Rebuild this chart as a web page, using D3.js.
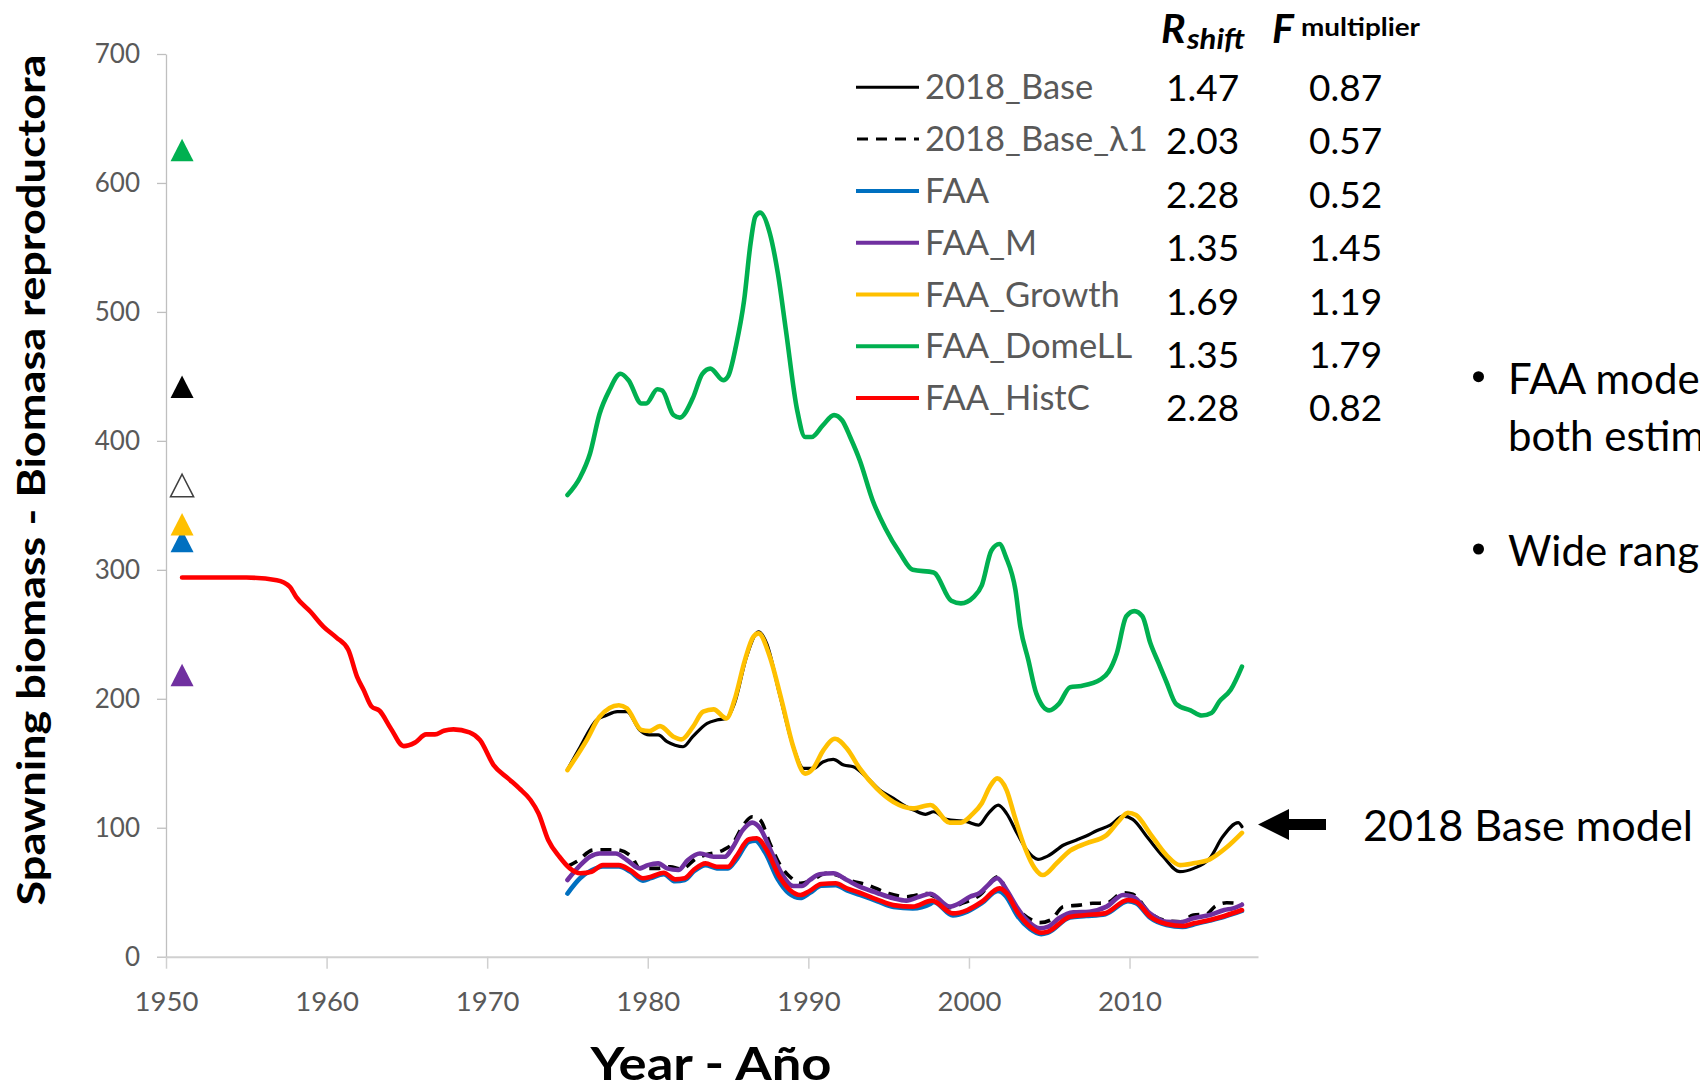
<!DOCTYPE html>
<html>
<head>
<meta charset="utf-8">
<script src="https://cdn.jsdelivr.net/npm/d3@7"></script>
<style>
  body { margin: 0; background: #fff; }
  svg { display: block; font-family: Lato, "Open Sans", sans-serif; }
</style>
</head>
<body>
<svg id="chart" width="1700" height="1086"></svg>
<script>
// ---- data ----
const xTicks = [1950, 1960, 1970, 1980, 1990, 2000, 2010];
const yTicks = [0, 100, 200, 300, 400, 500, 600, 700];

const base2018 = [[1975,145],[1975.8,162.8],[1976.8,183.5],[1977.4,187],[1978.1,190],[1978.7,190],[1979.5,175.8],[1980.1,172],[1980.65,172],[1981.2,166.7],[1981.7,164],[1982.2,162.8],[1982.8,170.6],[1983.7,181],[1984.3,183.5],[1984.9,184.8],[1985.4,196.4],[1986.15,232.6],[1986.9,252],[1987.4,243],[1988.2,204],[1989.06,162.8],[1989.7,146],[1990.3,146],[1990.9,151],[1991.55,153],[1992.2,148.6],[1992.8,147.3],[1993.6,139.5],[1994.46,129],[1995.3,122.8],[1996.1,116.3],[1996.6,113.5],[1997.3,110.4],[1997.8,112.4],[1998.6,106.5],[1999.86,104.7],[2000.6,102],[2001.2,111],[2001.83,117.6],[2002.35,111],[2003.0,95.7],[2003.6,82.7],[2004.3,75.5],[2004.9,78],[2005.9,86.6],[2006.7,90.5],[2007.3,93.6],[2007.95,97.7],[2008.8,102],[2009.6,109],[2010.2,106.5],[2011.16,91.8],[2012.1,77.5],[2013.14,65.9],[2014.0,68.5],[2015.0,76.3],[2015.8,93],[2016.77,103.9],[2017.0,100.8]];

const baseLambda1 = [[1975,70],[1975.6,74],[1976.6,82.7],[1978.0,83],[1979.0,77.5],[1979.5,68.5],[1980.6,68.5],[1981.4,69.8],[1982.1,68],[1983.0,76],[1983.6,79],[1984.7,82.7],[1985.3,88],[1985.9,101],[1986.5,108.5],[1987.0,106],[1987.6,88],[1988.3,70],[1988.85,62],[1989.5,57],[1990.3,60],[1991.1,64.7],[1991.9,62.8],[1992.5,59.5],[1993.7,55.6],[1995.0,49],[1996.1,46.5],[1997.4,49],[1997.8,47],[1998.8,38],[1999.5,41],[2000.7,48],[2001.8,62],[2002.5,46.5],[2003.2,35],[2003.9,28.5],[2004.4,26.4],[2005.1,28.5],[2005.87,38.8],[2006.9,40],[2007.7,41.4],[2008.57,41.6],[2009.6,49.6],[2010.2,48.4],[2011.27,34],[2012.3,27.9],[2013.2,27.1],[2013.97,32.3],[2014.8,33],[2015.3,38.8],[2016.05,41.8],[2017.0,41]];

const faa = [[1975,49],[1975.8,61],[1976.5,67],[1977.2,70],[1978.2,70],[1978.9,66],[1979.7,59],[1980.2,61],[1981.0,64],[1981.7,58.5],[1982.3,59.5],[1982.9,66.5],[1983.6,71],[1984.3,68.5],[1985.0,68.5],[1985.5,75],[1986.3,89],[1986.7,90],[1987.3,81],[1988.1,60],[1988.8,49],[1989.5,45.5],[1990.1,49.5],[1990.8,55],[1991.7,55.5],[1992.4,51.5],[1993.2,48],[1994.3,43],[1995.3,38.5],[1996.5,37.5],[1997.6,41],[1997.8,42.5],[1999.0,32],[1999.9,35],[2000.8,41.5],[2001.8,51],[2002.3,47],[2003.0,32],[2003.8,21.5],[2004.5,17.5],[2004.9,18.5],[2006.3,30.5],[2007.3,31.5],[2008.5,33],[2009.9,43],[2010.4,41.5],[2011.3,30],[2012.3,24.5],[2013.3,23],[2014.0,25],[2015.0,28],[2015.9,31],[2017.0,35.5]];

const faaM = [[1975,59.5],[1975.8,71],[1976.4,77.5],[1977.0,80],[1978.0,80],[1978.7,75],[1979.5,68.5],[1980.0,71],[1980.65,72.4],[1981.2,68.5],[1981.9,67.2],[1982.5,75],[1983.25,80],[1984.1,77.5],[1984.8,77.5],[1985.3,85],[1985.9,98],[1986.5,104],[1987.0,99.5],[1987.6,84],[1988.33,64.7],[1989.06,54.8],[1989.6,54.8],[1990.1,59.5],[1990.7,64],[1991.55,64.7],[1992.4,59.5],[1993.2,54.3],[1994.25,49.6],[1995.3,45.3],[1996.1,43.5],[1996.9,46.5],[1997.6,48.8],[1998.8,38.8],[1999.4,41.4],[2000.06,46.5],[2000.7,49.6],[2001.2,55.6],[2001.76,60.8],[2002.35,51.7],[2002.97,38.8],[2003.6,28.5],[2004.4,22],[2004.94,23.3],[2005.6,29.8],[2006.5,34.4],[2007.5,34.9],[2008.57,38.8],[2009.6,47.8],[2010.2,46.5],[2011.27,33.6],[2012.3,27],[2013.14,26.7],[2013.97,29.8],[2015.0,32.3],[2015.9,36.2],[2016.45,37.5],[2017.0,40.3]];

const faaGrowth = [[1975,144.7],[1976.2,168],[1977.0,186],[1978.2,195],[1978.7,192.6],[1979.6,175.8],[1980.1,175],[1980.76,178.8],[1981.6,170.6],[1982.1,168.5],[1982.8,178],[1983.45,190],[1984.1,191.8],[1984.9,184.8],[1985.4,199],[1986.05,230],[1986.57,248],[1986.9,250.7],[1987.6,232.6],[1988.33,199],[1989.06,162.8],[1989.8,142],[1990.3,146],[1990.93,160],[1991.66,169],[1992.4,161.5],[1993.2,146],[1994.25,130.5],[1995.3,120],[1996.5,115],[1997.6,117.6],[1998.8,104],[1999.5,104],[2000.17,110],[2000.8,119],[2001.3,131.8],[2001.76,138.3],[2002.35,129],[2002.85,108.5],[2003.5,84],[2004.1,68.5],[2004.6,63.3],[2005.46,72.4],[2006.3,82.2],[2007.3,87.9],[2008.57,94.3],[2009.3,104.7],[2009.9,111.6],[2010.4,109.8],[2011.27,95.7],[2012.3,78.8],[2013.14,71],[2013.97,72.4],[2015.0,75.5],[2016.05,84.8],[2017.0,96]];

const faaDomeLL = [[1975.0,358],[1975.8,372],[1976.4,390],[1977.0,421],[1977.6,439],[1978.3,452],[1978.8,447],[1979.6,429],[1979.9,429],[1980.6,440],[1980.9,439],[1981.6,420],[1982.0,418],[1982.8,433],[1983.4,452],[1983.9,456],[1984.7,447],[1985.0,450],[1985.5,474],[1986.0,509],[1986.4,553],[1986.7,574],[1987.0,577],[1987.6,561],[1988.1,530],[1988.6,486],[1989.3,424],[1989.8,403],[1990.2,403],[1990.9,412],[1991.6,420],[1992.1,416],[1992.6,403],[1993.2,385],[1994.0,354],[1994.8,332],[1995.7,313],[1996.5,300],[1997.8,298],[1998.9,276],[1999.5,274],[2000.3,279],[2000.8,288],[2001.4,315],[2001.9,320],[2002.3,310],[2002.9,284],[2003.2,256],[2003.7,230],[2004.2,204],[2005.0,191],[2005.6,196],[2006.3,209],[2007.0,210],[2008.2,215],[2008.7,221],[2009.2,235],[2009.8,264],[2010.3,268],[2010.8,264],[2011.3,243],[2011.8,228],[2012.3,213],[2012.9,196],[2013.8,191],[2014.5,187],[2015.1,189],[2015.6,198],[2016.3,207],[2017.0,225]];

const faaHistC = [[1951,294],[1955,294],[1956.9,292],[1957.7,287],[1958.1,279],[1959.0,267.5],[1959.8,256],[1960.6,247.6],[1961.35,238],[1961.9,217],[1962.3,207],[1962.8,194],[1963.3,190.7],[1964.0,177],[1964.8,163.3],[1965.5,166],[1966.2,172.4],[1966.75,172.4],[1967.3,175.2],[1967.9,176.3],[1968.9,174],[1969.55,168],[1970.4,148.6],[1971.3,138.3],[1972.0,130.5],[1972.7,121.5],[1973.2,111],[1973.8,90.5],[1974.5,77.5],[1975.15,68.5],[1975.8,64.7],[1976.5,65.9],[1977.2,71],[1978.2,71],[1978.9,67.2],[1979.7,60.8],[1980.2,62],[1981.0,65.1],[1981.7,60],[1982.3,60.8],[1982.9,67.8],[1983.6,72.4],[1984.3,69.8],[1985.0,69.8],[1985.5,77.5],[1986.3,91],[1986.8,91.8],[1987.4,82.7],[1988.2,62],[1988.85,51.7],[1989.5,47.8],[1990.1,51.2],[1990.8,56.4],[1991.7,56.9],[1992.4,53],[1993.2,49.6],[1994.25,44.5],[1995.3,40],[1996.5,38.8],[1997.7,43.5],[1999.0,33.6],[1999.9,36.2],[2000.8,42.6],[2001.9,53],[2002.35,49.1],[2003.0,34.9],[2003.8,23.3],[2004.5,18.6],[2004.9,19.4],[2006.3,31],[2007.3,32.3],[2008.45,33.6],[2009.9,44],[2010.4,42.6],[2011.3,31],[2012.3,25.4],[2013.35,23.8],[2014.0,25.9],[2015.0,28.5],[2015.9,31.6],[2017.0,36.2]];

// virgin biomass markers at 1951
const markerYear = 1951;
const markerValues = [
  {name: 'FAA_DomeLL', v: 625.6, fill: '#00B050'},
  {name: '2018_Base', v: 442, fill: '#000000'},
  {name: '2018_Base_λ1', v: 365.4, fill: '#ffffff', open: true},
  {name: 'FAA', v: 322.3, fill: '#0070C0'},
  {name: 'FAA_Growth', v: 335.3, fill: '#FFC000'},
  {name: 'FAA_M', v: 218.4, fill: '#7030A0'}
];

const seriesNames = ['2018_Base', '2018_Base_λ1', 'FAA', 'FAA_M', 'FAA_Growth', 'FAA_DomeLL', 'FAA_HistC'];
const seriesColors = ['#000000', '#000000', '#0070C0', '#7030A0', '#FFC000', '#00B050', '#FF0000'];
const seriesData = [base2018, baseLambda1, faa, faaM, faaGrowth, faaDomeLL, faaHistC];
const rShift = ['1.47', '2.03', '2.28', '1.35', '1.69', '1.35', '2.28'];
const fMult = ['0.87', '0.57', '0.52', '1.45', '1.19', '1.79', '0.82'];

// ---- drawing ----
const svg = d3.select('#chart');

const x = d3.scaleLinear().domain([1950, 2018]).range([166, 1258]);
const y = d3.scaleLinear().domain([0, 700]).range([956.7, 54]);

const yAxis = svg.append('g')
  .attr('transform', 'translate(166,0)')
  .call(d3.axisLeft(y).tickValues(yTicks).tickSize(9).tickSizeOuter(0).tickPadding(17));
yAxis.select('.domain').attr('stroke', '#bfbfbf').attr('stroke-width', 1.3);
yAxis.selectAll('.tick line').attr('stroke', '#bfbfbf').attr('stroke-width', 1.3);
yAxis.selectAll('.tick text')
  .attr('fill', '#595959')
  .style('font-family', 'Lato, sans-serif')
  .style('font-size', '26px');

const xAxis = svg.append('g')
  .attr('transform', 'translate(0,956.7)')
  .call(d3.axisBottom(x).tickValues(xTicks).tickFormat(d3.format('d')).tickSize(12).tickSizeOuter(0).tickPadding(23));
xAxis.select('.domain').attr('stroke', '#d0d0d0').attr('stroke-width', 2);
xAxis.selectAll('.tick line').attr('stroke', '#d0d0d0').attr('stroke-width', 1.5);
xAxis.selectAll('.tick text')
  .attr('fill', '#595959')
  .style('font-family', 'Lato, sans-serif')
  .style('font-size', '27.5px');

// axis titles
svg.append('text')
  .attr('transform', 'translate(45,480) rotate(-90)')
  .attr('text-anchor', 'middle')
  .attr('font-weight', 'bold')
  .attr('font-size', 39)
  .attr('textLength', 851)
  .attr('lengthAdjust', 'spacingAndGlyphs')
  .text('Spawning biomass - Biomasa reproductora');

svg.append('text')
  .attr('x', 711).attr('y', 1080)
  .attr('text-anchor', 'middle')
  .attr('font-weight', 'bold')
  .attr('font-size', 46)
  .attr('textLength', 241)
  .attr('lengthAdjust', 'spacingAndGlyphs')
  .text('Year - Año');

// lines
const line = d3.line()
  .x(d => x(d[0]))
  .y(d => y(d[1]))
  .curve(d3.curveMonotoneX);

const lines = svg.append('g').attr('fill', 'none').attr('stroke-linejoin', 'round').attr('stroke-linecap', 'round');
seriesData.forEach((data, i) => {
  const p = lines.append('path')
    .attr('d', line(data))
    .attr('stroke', seriesColors[i])
    .attr('stroke-width', i < 2 ? 3.2 : 4.6);
  if (i === 1) p.attr('stroke-dasharray', '11,8').attr('stroke-linecap', 'butt').attr('stroke-width', 3.6);
});

// triangle markers
const tw = 23, th = 22.5;
svg.append('g').selectAll('path')
  .data(markerValues)
  .join('path')
  .attr('transform', d => `translate(${x(markerYear)},${y(d.v)})`)
  .attr('d', `M0,${-th / 2}L${tw / 2},${th / 2}L${-tw / 2},${th / 2}Z`)
  .attr('fill', d => d.fill)
  .attr('stroke', d => d.open ? '#404040' : 'none')
  .attr('stroke-width', 1.6);

// legend
const legend = svg.append('g');
seriesNames.forEach((name, i) => {
  const ly = 87.3 + i * 51.8;
  const s = legend.append('line')
    .attr('x1', 856).attr('x2', 919)
    .attr('y1', ly).attr('y2', ly)
    .attr('stroke', seriesColors[i])
    .attr('stroke-width', i < 2 ? 3 : 4);
  if (i === 1) s.attr('stroke-dasharray', '11,8').attr('x1', 857);
  legend.append('text')
    .attr('x', 925).attr('y', ly + 12)
    .attr('fill', '#595959')
    .attr('font-size', 34.5)
    .text(name);
  legend.append('text')
    .attr('x', 1166).attr('y', 101 + i * 53.4)
    .attr('font-size', 37)
    .text(rShift[i]);
  legend.append('text')
    .attr('x', 1309).attr('y', 101 + i * 53.4)
    .attr('font-size', 37)
    .text(fMult[i]);
});

// column headers
const hR = svg.append('text').attr('font-weight', 'bold').attr('font-style', 'italic');
hR.append('tspan').attr('x', 1161).attr('y', 43).attr('font-size', 41).text('R');
hR.append('tspan').attr('x', 1187).attr('y', 49).attr('font-size', 29)
  .attr('textLength', 58).attr('lengthAdjust', 'spacingAndGlyphs').text('shift');
svg.append('text').attr('x', 1272).attr('y', 43)
  .attr('font-weight', 'bold').attr('font-style', 'italic').attr('font-size', 41).text('F');
svg.append('text').attr('x', 1301).attr('y', 36)
  .attr('font-weight', 'bold').attr('font-size', 24)
  .attr('textLength', 119).attr('lengthAdjust', 'spacingAndGlyphs').text('multiplier');

// arrow + label for the base model
svg.append('path')
  .attr('d', 'M1258,824.5 L1289,809 L1289,819 L1326,819 L1326,830 L1289,830 L1289,840 Z')
  .attr('fill', '#000');
svg.append('text')
  .attr('x', 1363).attr('y', 841)
  .attr('font-size', 42)
  .attr('textLength', 330)
  .attr('lengthAdjust', 'spacingAndGlyphs')
  .text('2018 Base model');

// bullet text on the right (runs off the slide edge)
const bullets = [
  {y: 376.7, lines: ['FAA models', 'both estimate']},
  {y: 549, lines: ['Wide range']}
];
bullets.forEach(b => {
  svg.append('circle').attr('cx', 1478.5).attr('cy', b.y).attr('r', 5.5).attr('fill', '#000');
  b.lines.forEach((t, j) => {
    svg.append('text')
      .attr('x', 1508).attr('y', b.y + 17 + j * 57)
      .attr('font-size', 42)
      .text(t);
  });
});
</script>
</body>
</html>
